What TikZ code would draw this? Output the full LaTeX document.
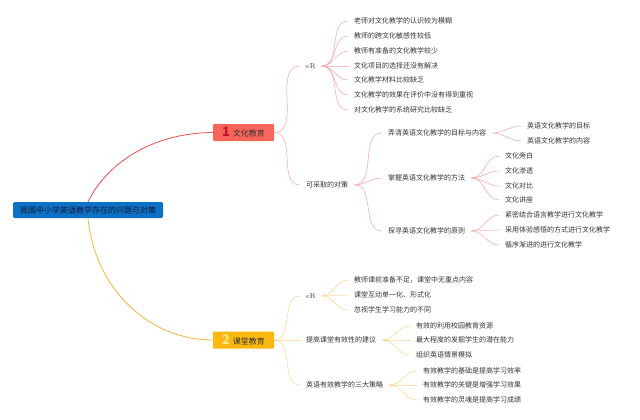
\documentclass[tikz,border=0pt]{standalone}
\usepackage{xcolor}
\usepackage{fontspec}
\newfontfamily\cjk{Noto Sans CJK SC}
\usetikzlibrary{positioning}

\definecolor{rootblue}{HTML}{0D72C6}
\definecolor{rootink}{HTML}{0A1A3A}
\definecolor{ink}{HTML}{333333}
\definecolor{redbox}{HTML}{F9655B}
\definecolor{numred}{HTML}{C8102E}
\definecolor{redmainc}{HTML}{E8504F}
\definecolor{redfanc}{HTML}{F5A3A3}
\definecolor{yellowbox}{HTML}{FCB80F}
\definecolor{numyellow}{HTML}{FDE68A}
\definecolor{yellowmainc}{HTML}{F4B63A}
\definecolor{yellowfanc}{HTML}{FBD38A}

\begin{document}
\begin{tikzpicture}[x=1pt, y=-1pt,
    root/.style={rectangle, rounded corners=1.5pt, fill=rootblue, text=rootink, minimum width=150pt, minimum height=16pt, inner sep=0pt, font=\cjk\fontsize{8}{8}\selectfont},
    topic/.style={rectangle, rounded corners=1pt, minimum width=61pt, minimum height=17pt, inner sep=0pt, text=ink, font=\cjk\fontsize{8}{8}\selectfont},
    item/.style={anchor=west, inner xsep=6pt, inner ysep=1pt, text=ink, font=\cjk\fontsize{7}{7}\selectfont},
    tag/.style={item, font=\fontsize{7}{7}\selectfont},
    redmain/.style={draw=redmainc, line width=0.8pt},
    redfan/.style={draw=redfanc, line width=0.5pt},
    yellowmain/.style={draw=yellowmainc, line width=0.8pt},
    yellowfan/.style={draw=yellowfanc, line width=0.5pt},
    fan/.style={out=0, in=180}
]
\useasboundingbox (0,0) rectangle (640,420);

% Root and main topics
\node[root] (root) at (88,210) {我国中小学英语教学存在的问题与对策};
\node[topic, fill=redbox] (culture) at (243.5,132.5) {{\bfseries\fontsize{13}{13}\selectfont\color{numred}1}\hspace{3pt}文化教育};
\node[topic, fill=yellowbox] (class) at (243.5,340) {{\bfseries\fontsize{13}{13}\selectfont\color{numyellow}2}\hspace{3pt}课堂教育};

% Culture: problems
\node[tag] (cprob) at (300,66) {eR};
\node[item] (cp1) at (348,21) {老师对文化教学的认识较为模糊};
\node[item] (cp2) at (348,36) {教师的跨文化敏感性较低};
\node[item] (cp3) at (348,51) {教师有准备的文化教学较少};
\node[item] (cp4) at (348,66) {文化项目的选择还没有解决};
\node[item] (cp5) at (348,80) {文化教学材料比较缺乏};
\node[item] (cp6) at (348,95) {文化教学的效果在评价中没有得到重视};
\node[item] (cp7) at (348,110) {对文化教学的系统研究比较缺乏};

% Culture: measures
\node[item] (cmeas) at (300,185) {可采取的对策};
\node[item] (goal) at (382,133) {弄清英语文化教学的目标与内容};
\node[item] (goal1) at (521,126) {英语文化教学的目标};
\node[item] (goal2) at (521,141) {英语文化教学的内容};
\node[item] (method) at (382,178) {掌握英语文化教学的方法};
\node[item] (method1) at (499,156) {文化旁白};
\node[item] (method2) at (499,171) {文化渗透};
\node[item] (method3) at (499,186) {文化对比};
\node[item] (method4) at (499,200) {文化讲座};
\node[item] (rule) at (382,231) {探寻英语文化教学的原则};
\node[item] (rule1) at (499,215) {紧密结合语言教学进行文化教学};
\node[item] (rule2) at (499,230) {采用体验感悟的方式进行文化教学};
\node[item] (rule3) at (499,245) {循序渐进的进行文化教学};

% Classroom
\node[tag] (kprob) at (300,296) {eR};
\node[item] (kp1) at (348,280) {教师课前准备不足，课堂中无重点内容};
\node[item] (kp2) at (348,295) {课堂互动单一化、形式化};
\node[item] (kp3) at (348,310) {忽视学生学习能力的不同};
\node[item] (advice) at (300,340) {提高课堂有效性的建议};
\node[item] (advice1) at (410,326) {有效的利用校园教育资源};
\node[item] (advice2) at (410,340) {最大程度的发掘学生的潜在能力};
\node[item] (advice3) at (410,355) {组织英语情景模拟};
\node[item] (tactic) at (300,385) {英语有效教学的三大策略};
\node[item] (tactic1) at (417,371) {有效教学的基础是提高学习效率};
\node[item] (tactic2) at (417,385) {有效教学的关键是增强学习效果};
\node[item] (tactic3) at (417,400) {有效教学的灵魂是提高学习成绩};

% Main curves
\draw[redmain] (root.north) .. controls (106,165) and (150,133) .. (culture.west);
\draw[yellowmain] (root.south) .. controls (95,290) and (150,340) .. (class.west);

% Culture connections
\draw[redfan] (culture.east) to[fan] (cprob.west);
\draw[redfan] (culture.east) to[fan] (cmeas.west);
\draw[redfan] (cprob.east) to[fan] (cp1.west);
\draw[redfan] (cprob.east) to[fan] (cp2.west);
\draw[redfan] (cprob.east) to[fan] (cp3.west);
\draw[redfan] (cprob.east) to[fan] (cp4.west);
\draw[redfan] (cprob.east) to[fan] (cp5.west);
\draw[redfan] (cprob.east) to[fan] (cp6.west);
\draw[redfan] (cprob.east) to[fan] (cp7.west);
\draw[redfan] (cmeas.east) to[fan] (goal.west);
\draw[redfan] (cmeas.east) to[fan] (method.west);
\draw[redfan] (cmeas.east) to[fan] (rule.west);
\draw[redfan] (goal.east) to[fan] (goal1.west);
\draw[redfan] (goal.east) to[fan] (goal2.west);
\draw[redfan] (method.east) to[fan] (method1.west);
\draw[redfan] (method.east) to[fan] (method2.west);
\draw[redfan] (method.east) to[fan] (method3.west);
\draw[redfan] (method.east) to[fan] (method4.west);
\draw[redfan] (rule.east) to[fan] (rule1.west);
\draw[redfan] (rule.east) to[fan] (rule2.west);
\draw[redfan] (rule.east) to[fan] (rule3.west);

% Classroom connections
\draw[yellowfan] (class.east) to[fan] (kprob.west);
\draw[yellowfan] (class.east) to[fan] (advice.west);
\draw[yellowfan] (class.east) to[fan] (tactic.west);
\draw[yellowfan] (kprob.east) to[fan] (kp1.west);
\draw[yellowfan] (kprob.east) to[fan] (kp2.west);
\draw[yellowfan] (kprob.east) to[fan] (kp3.west);
\draw[yellowfan] (advice.east) to[fan] (advice1.west);
\draw[yellowfan] (advice.east) to[fan] (advice2.west);
\draw[yellowfan] (advice.east) to[fan] (advice3.west);
\draw[yellowfan] (tactic.east) to[fan] (tactic1.west);
\draw[yellowfan] (tactic.east) to[fan] (tactic2.west);
\draw[yellowfan] (tactic.east) to[fan] (tactic3.west);
\end{tikzpicture}
\end{document}
